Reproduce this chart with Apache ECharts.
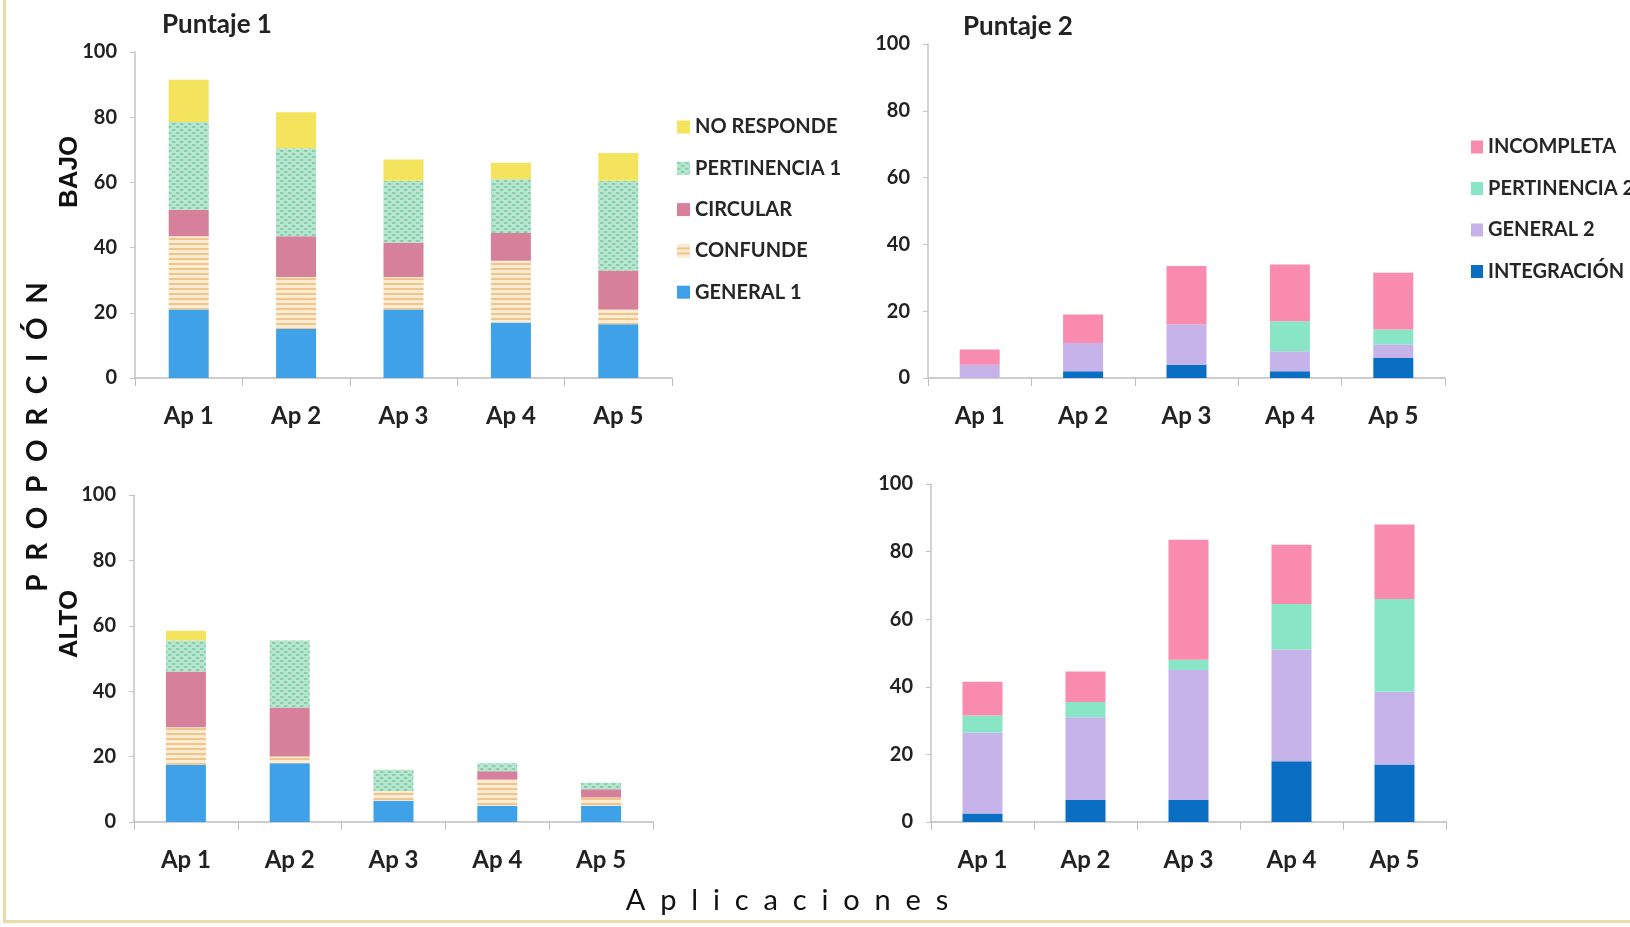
<!DOCTYPE html>
<html>
<head>
<meta charset="utf-8">
<script src="https://cdn.jsdelivr.net/npm/echarts@6/dist/echarts.min.js"></script>
<style>
html,body{margin:0;padding:0;background:#fff;}
#chart{width:1630px;height:927px;}
</style>
</head>
<body>
<div id="chart"></div>
<script>
// ---- data ----
const categories = ['Ap 1', 'Ap 2', 'Ap 3', 'Ap 4', 'Ap 5'];
const yTicks = [0, 20, 40, 60, 80, 100];

// Puntaje 1 – BAJO
const bajoGeneral1     = [21, 15, 21, 17, 16.5];
const bajoConfunde     = [22.5, 16, 10, 19, 4.5];
const bajoCircular     = [8, 12.5, 10.5, 8.5, 12];
const bajoPertinencia1 = [27, 27, 19, 16.5, 27.5];
const bajoNoResponde   = [13, 11, 6.5, 5, 8.5];

// Puntaje 2 – BAJO
const bajoIntegracion  = [0, 2, 4, 2, 6];
const bajoGeneral2     = [4, 8.5, 12, 6, 4];
const bajoPertinencia2 = [0, 0, 0, 9, 4.5];
const bajoIncompleta   = [4.5, 8.5, 17.5, 17, 17];

// Puntaje 1 – ALTO
const altoGeneral1     = [17.5, 18, 6.5, 5, 5];
const altoConfunde     = [11.5, 2, 3, 8, 2.5];
const altoCircular     = [17, 15, 0, 2.5, 2.5];
const altoPertinencia1 = [9.5, 20.5, 6.5, 2.5, 2];
const altoNoResponde   = [3, 0, 0, 0, 0];

// Puntaje 2 – ALTO
const altoIntegracion  = [2.5, 6.5, 6.5, 18, 17];
const altoGeneral2     = [24, 24.5, 38.5, 33, 21.5];
const altoPertinencia2 = [5, 4.5, 3, 13.5, 27.5];
const altoIncompleta   = [10, 9, 35.5, 17.5, 22];

const legend1Names = ['NO RESPONDE', 'PERTINENCIA 1', 'CIRCULAR', 'CONFUNDE', 'GENERAL 1'];
const legend2Names = ['INCOMPLETA', 'PERTINENCIA 2', 'GENERAL 2', 'INTEGRACIÓN'];

// ---- patterns ----
function stripePattern() {
  const c = document.createElement('canvas');
  c.width = 8; c.height = 5;
  const g = c.getContext('2d');
  g.fillStyle = '#fdebd2'; g.fillRect(0, 0, 8, 5);
  g.fillStyle = '#efc58e'; g.fillRect(0, 3, 8, 2);
  return c;
}
function dotPattern() {
  const c = document.createElement('canvas');
  c.width = 8; c.height = 6;
  const g = c.getContext('2d');
  g.fillStyle = '#b8e5cf'; g.fillRect(0, 0, 8, 6);
  g.fillStyle = '#86d0ab';
  g.fillRect(0, 0, 3, 2); g.fillRect(4, 3, 3, 2);
  g.fillStyle = '#a0dcbf';
  g.fillRect(3, 0, 1, 2); g.fillRect(7, 3, 1, 2);
  return c;
}
const colors = {
  'GENERAL 1': '#3fa1e8',
  'CONFUNDE': { image: stripePattern(), repeat: 'repeat' },
  'CIRCULAR': '#d6809b',
  'PERTINENCIA 1': { image: dotPattern(), repeat: 'repeat' },
  'NO RESPONDE': '#f4e35c',
  'INTEGRACIÓN': '#0a6fc2',
  'GENERAL 2': '#c5b3ea',
  'PERTINENCIA 2': '#88e5c6',
  'INCOMPLETA': '#f98cae'
};

const FONT = 'Lato';
const grids = [
  { left: 135, top: 52, width: 537, height: 326 },
  { left: 928, top: 44, width: 517, height: 334 },
  { left: 134, top: 495, width: 519, height: 327 },
  { left: 931, top: 484, width: 515, height: 338 }
];

const xAxes = grids.map((g, i) => ({
  type: 'category', gridIndex: i, data: categories,
  axisLine: { lineStyle: { color: '#bdbdbd', width: 1.5 } },
  axisTick: { show: true, length: 8, inside: false, lineStyle: { color: '#bdbdbd' } },
  axisLabel: { color: '#222', fontFamily: FONT, fontWeight: 'bold', fontSize: 24, margin: 26 }
}));
const yAxes = grids.map((g, i) => ({
  type: 'value', gridIndex: i, min: 0, max: 100, interval: 20,
  axisLine: { show: true, lineStyle: { color: '#c4c4c4', width: 1.5 } },
  axisTick: { show: true, length: 5, lineStyle: { color: '#c4c4c4' } },
  splitLine: { show: false },
  axisLabel: { color: '#222', fontFamily: FONT, fontWeight: 'bold', fontSize: 20, margin: 18,
    formatter: v => yTicks.includes(v) ? String(v) : '' }
}));

function bar(name, data, idx, stack) {
  return { name, type: 'bar', stack, xAxisIndex: idx, yAxisIndex: idx, data,
    barWidth: 40, itemStyle: { color: colors[name] } };
}
const series = [
  bar('GENERAL 1', bajoGeneral1, 0, 's0'),
  bar('CONFUNDE', bajoConfunde, 0, 's0'),
  bar('CIRCULAR', bajoCircular, 0, 's0'),
  bar('PERTINENCIA 1', bajoPertinencia1, 0, 's0'),
  bar('NO RESPONDE', bajoNoResponde, 0, 's0'),
  bar('INTEGRACIÓN', bajoIntegracion, 1, 's1'),
  bar('GENERAL 2', bajoGeneral2, 1, 's1'),
  bar('PERTINENCIA 2', bajoPertinencia2, 1, 's1'),
  bar('INCOMPLETA', bajoIncompleta, 1, 's1'),
  bar('GENERAL 1', altoGeneral1, 2, 's2'),
  bar('CONFUNDE', altoConfunde, 2, 's2'),
  bar('CIRCULAR', altoCircular, 2, 's2'),
  bar('PERTINENCIA 1', altoPertinencia1, 2, 's2'),
  bar('NO RESPONDE', altoNoResponde, 2, 's2'),
  bar('INTEGRACIÓN', altoIntegracion, 3, 's3'),
  bar('GENERAL 2', altoGeneral2, 3, 's3'),
  bar('PERTINENCIA 2', altoPertinencia2, 3, 's3'),
  bar('INCOMPLETA', altoIncompleta, 3, 's3')
];

const legendText = { color: '#262626', fontFamily: FONT, fontWeight: 'bold', fontSize: 20, lineHeight: 20 };
const option = {
  animation: false,
  backgroundColor: '#fff',
  title: [
    { text: 'Puntaje 1', left: 157, top: 7, textStyle: { fontFamily: FONT, fontWeight: 'bold', fontSize: 26, color: '#222' } },
    { text: 'Puntaje 2', left: 958, top: 9, textStyle: { fontFamily: FONT, fontWeight: 'bold', fontSize: 26, color: '#222' } }
  ],
  legend: [
    { data: legend1Names, orient: 'vertical', left: 672, top: 112, icon: 'rect',
      itemWidth: 13, itemHeight: 13, itemGap: 21.3, textStyle: legendText, selectedMode: false },
    { data: legend2Names, orient: 'vertical', left: 1466, top: 132, icon: 'rect',
      itemWidth: 12, itemHeight: 13, itemGap: 21.5, textStyle: legendText, selectedMode: false }
  ],
  grid: grids,
  xAxis: xAxes,
  yAxis: yAxes,
  series,
  graphic: [
    { type: 'rect', shape: { x: 3, y: 0, width: 3, height: 923 }, style: { fill: '#eadba8' }, silent: true },
    { type: 'rect', shape: { x: 3, y: 920, width: 1627, height: 3 }, style: { fill: '#eadba8' }, silent: true },
    { type: 'text', x: 38, y: 437, rotation: Math.PI / 2,
      style: { text: 'P  R  O  P  O  R  C  I  Ó  N', fontFamily: FONT, fontWeight: 'bold', fontSize: 28, fill: '#111',
        align: 'center', verticalAlign: 'middle' } },
    { type: 'text', x: 70, y: 172, rotation: Math.PI / 2,
      style: { text: 'BAJO', fontFamily: 'Liberation Sans', fontWeight: 'bold', fontSize: 26, fill: '#111',
        align: 'center', verticalAlign: 'middle' } },
    { type: 'text', x: 70, y: 624, rotation: Math.PI / 2,
      style: { text: 'ALTO', fontFamily: 'Liberation Sans', fontWeight: 'bold', fontSize: 26, fill: '#111',
        align: 'center', verticalAlign: 'middle' } },
    { type: 'text', x: 787, y: 901,
      style: { text: 'A  p  l  i  c  a  c  i  o  n  e  s', fontFamily: FONT, fontSize: 29, fill: '#111',
        align: 'center', verticalAlign: 'middle' } }
  ]
};
const chart = echarts.init(document.getElementById('chart'), null, { renderer: 'canvas' });
chart.setOption(option);
</script>
</body>
</html>
